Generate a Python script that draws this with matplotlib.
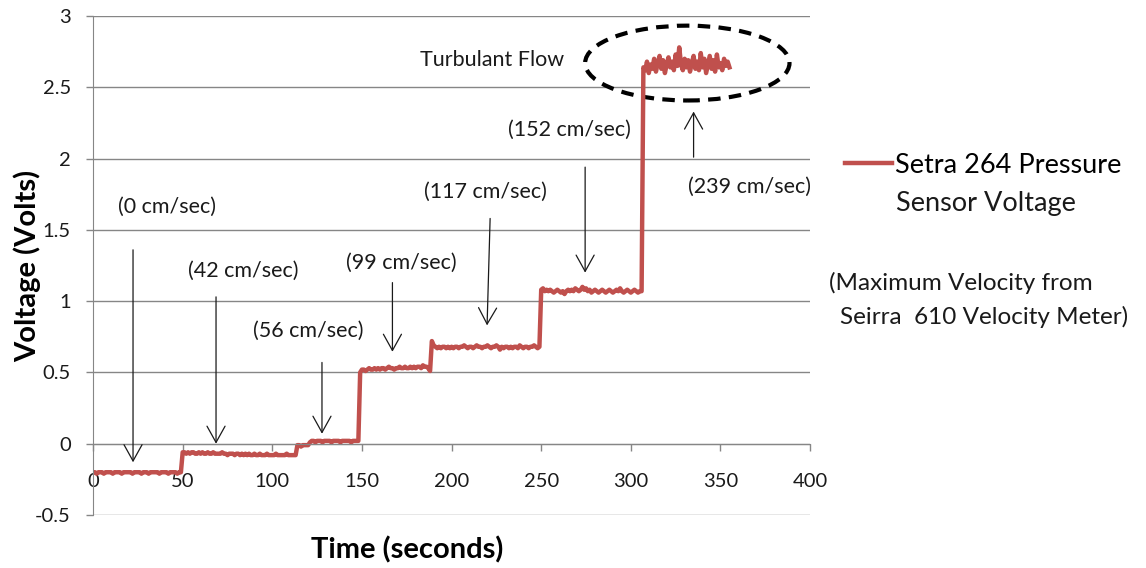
import matplotlib
matplotlib.use("Agg")
import matplotlib.pyplot as plt
from matplotlib.patches import Ellipse
import numpy as np

plt.rcParams['font.family'] = ['Lato', 'DejaVu Sans']

# sensor voltage, one reading per second, split by flow setting
v_0cm = [-0.20, -0.20, -0.21, -0.20, -0.20, -0.20, -0.21, -0.20, -0.20, -0.20,
         -0.20, -0.21, -0.20, -0.20, -0.20, -0.20, -0.21, -0.20, -0.20, -0.20,
         -0.20, -0.20, -0.21, -0.20, -0.20, -0.20, -0.20, -0.21, -0.20, -0.20,
         -0.20, -0.21, -0.20, -0.20, -0.20, -0.20, -0.20, -0.21, -0.20, -0.20,
         -0.20, -0.20, -0.21, -0.20, -0.20, -0.20, -0.20, -0.21, -0.20, -0.20]
v_42cm = [-0.06, -0.06, -0.07, -0.06, -0.07, -0.06, -0.06, -0.07, -0.07, -0.06,
          -0.07, -0.06, -0.07, -0.07, -0.06, -0.07, -0.07, -0.06, -0.07, -0.07,
          -0.07, -0.07, -0.06, -0.07, -0.07, -0.08, -0.07, -0.07, -0.07, -0.08,
          -0.07, -0.07, -0.08, -0.07, -0.08, -0.07, -0.08, -0.07, -0.08, -0.08,
          -0.07, -0.08, -0.08, -0.07, -0.08, -0.08, -0.08, -0.07, -0.08, -0.08,
          -0.08, -0.08, -0.07, -0.08, -0.08, -0.08, -0.08, -0.08, -0.07, -0.08,
          -0.08, -0.08, -0.08, -0.08]
v_56cm = [-0.01, -0.01, -0.02, -0.01, -0.01, -0.01, -0.01,
          0.01, 0.02, 0.02, 0.01, 0.02, 0.02, 0.02, 0.01, 0.02, 0.02,
          0.02, 0.02, 0.01, 0.02, 0.02, 0.02, 0.02, 0.01, 0.02, 0.02,
          0.02, 0.02, 0.02, 0.01, 0.02, 0.02, 0.02, 0.02]
v_99cm = [0.50, 0.52, 0.52, 0.51, 0.52, 0.53, 0.52, 0.52, 0.53, 0.52,
          0.53, 0.52, 0.53, 0.53, 0.52, 0.53, 0.54, 0.53, 0.53, 0.52,
          0.53, 0.53, 0.54, 0.53, 0.53, 0.54, 0.53, 0.53, 0.54, 0.53,
          0.54, 0.53, 0.54, 0.54, 0.53, 0.55, 0.54, 0.54, 0.53, 0.51]
v_117cm = [0.72, 0.69, 0.68, 0.67, 0.68, 0.67, 0.68, 0.68, 0.67, 0.68,
           0.67, 0.68, 0.67, 0.68, 0.68, 0.67, 0.68, 0.68, 0.69, 0.68,
           0.67, 0.68, 0.68, 0.67, 0.68, 0.69, 0.68, 0.68, 0.67, 0.68,
           0.68, 0.69, 0.68, 0.67, 0.68, 0.68, 0.69, 0.68, 0.66, 0.68,
           0.67, 0.68, 0.68, 0.67, 0.68, 0.67, 0.68, 0.68, 0.67, 0.69,
           0.68, 0.67, 0.68, 0.68, 0.67, 0.68, 0.68, 0.69, 0.68, 0.67, 0.68]
v_152cm = [1.08, 1.09, 1.07, 1.08, 1.07, 1.08, 1.07, 1.06, 1.07, 1.08,
           1.07, 1.06, 1.07, 1.05, 1.07, 1.08, 1.07, 1.08, 1.07, 1.09,
           1.08, 1.07, 1.08, 1.10, 1.08, 1.09, 1.07, 1.08, 1.06, 1.07,
           1.08, 1.07, 1.06, 1.07, 1.08, 1.07, 1.06, 1.07, 1.08, 1.07,
           1.06, 1.07, 1.08, 1.07, 1.09, 1.07, 1.06, 1.07, 1.08, 1.07,
           1.06, 1.07, 1.08, 1.07, 1.06, 1.07, 1.07]
v_239cm = [2.64, 2.62, 2.68, 2.60, 2.66, 2.63, 2.70, 2.61, 2.67, 2.72,
           2.63, 2.69, 2.60, 2.66, 2.71, 2.64, 2.68, 2.62, 2.73, 2.65,
           2.78, 2.66, 2.62, 2.70, 2.64, 2.69, 2.61, 2.67, 2.72, 2.63,
           2.68, 2.62, 2.74, 2.64, 2.70, 2.60, 2.66, 2.72, 2.63, 2.69,
           2.61, 2.73, 2.64, 2.67, 2.62, 2.70, 2.65, 2.68, 2.64]

volts = np.array(v_0cm + v_42cm + v_56cm + v_99cm + v_117cm + v_152cm + v_239cm)
seconds = np.arange(len(volts))

# velocity notes: label, text (x, y), arrow tail (x, y), arrow tip (x, y)
notes = [
    ("(0 cm/sec)", (41, 1.66), (22.3, 1.36), (22.3, -0.13)),
    ("(42 cm/sec)", (84, 1.21), (68.6, 1.03), (68.6, 0.0)),
    ("(56 cm/sec)", (120, 0.79), (127.7, 0.57), (127.7, 0.07)),
    ("(99 cm/sec)", (172, 1.27), (167, 1.13), (167, 0.645)),
    ("(117 cm/sec)", (219, 1.77), (221.5, 1.58), (219.8, 0.83)),
    ("(152 cm/sec)", (266, 2.20), (274.5, 1.94), (274.5, 1.20)),
    ("(239 cm/sec)", (366, 1.80), (335, 2.01), (335, 2.33)),
]

red = '#C0504D'
grey = '#868686'
ink = '#1a1a1a'

fig = plt.figure(figsize=(11.46, 5.68), dpi=100)
ax = fig.add_axes([0.0812, 0.0933, 0.6257, 0.8785])

ax.plot(seconds, volts, color=red, lw=3.2, solid_joinstyle='round',
        label='Setra 264 Pressure')

ax.set_xlim(0, 400)
ax.set_ylim(-0.5, 3)
ax.set_xticks(np.arange(0, 401, 50))
ax.set_yticks(np.arange(-0.5, 3.01, 0.5))
ax.set_yticklabels(['-0.5', '0', '0.5', '1', '1.5', '2', '2.5', '3'])
ax.grid(axis='y', color=grey, lw=1.0)
ax.set_axisbelow(True)

for s in ['top', 'right']:
    ax.spines[s].set_visible(False)
ax.spines['bottom'].set_position(('data', 0))
ax.spines['bottom'].set_color(grey)
ax.spines['left'].set_color(grey)
ax.tick_params(axis='x', direction='out', length=5, width=1, color=grey,
               pad=16, labelsize=14.5, labelcolor=ink)
ax.tick_params(axis='y', direction='out', length=5, width=1, color=grey,
               pad=11, labelsize=14.5, labelcolor=ink)

ax.set_xlabel('Time (seconds)', fontsize=21, fontweight='bold', va='center')
ax.xaxis.set_label_coords(0.438, -0.070)
ax.set_ylabel('Voltage (Volts)', fontsize=21, fontweight='bold', va='center')
ax.yaxis.set_label_coords(-0.092, 0.5)

for label, (tx, ty), tail, tip in notes:
    ax.text(tx, ty, label, fontsize=15.5, ha='center', va='center', color=ink)
    ax.annotate('', xy=tip, xytext=tail,
                arrowprops=dict(arrowstyle='->,head_length=0.9,head_width=0.5',
                                mutation_scale=13, lw=0.9, color=ink,
                                shrinkA=0, shrinkB=0))

ax.text(222.6, 2.69, 'Turbulant Flow', fontsize=15.5, ha='center', va='center',
        color=ink)
ax.add_patch(Ellipse((331.5, 2.67), 114, 0.525, fill=False, ec='black', lw=3,
                     ls=(0, (3, 2))))

leg = ax.legend(loc='center left', bbox_to_anchor=(0.7374, 0.7095),
                bbox_transform=fig.transFigure, frameon=False, fontsize=19.5,
                handlelength=1.75, handletextpad=0.1, borderpad=0,
                borderaxespad=0)
fig.text(0.782, 0.6426, 'Sensor Voltage', fontsize=19.5, va='center',
         ha='left', color=ink)
fig.text(0.7234, 0.5018, '(Maximum Velocity from', fontsize=17.5,
         va='center', color=ink)
fig.text(0.733, 0.442, 'Seirra  610 Velocity Meter)', fontsize=17.5,
         va='center', color=ink)

fig.savefig('out.png', dpi=100)
